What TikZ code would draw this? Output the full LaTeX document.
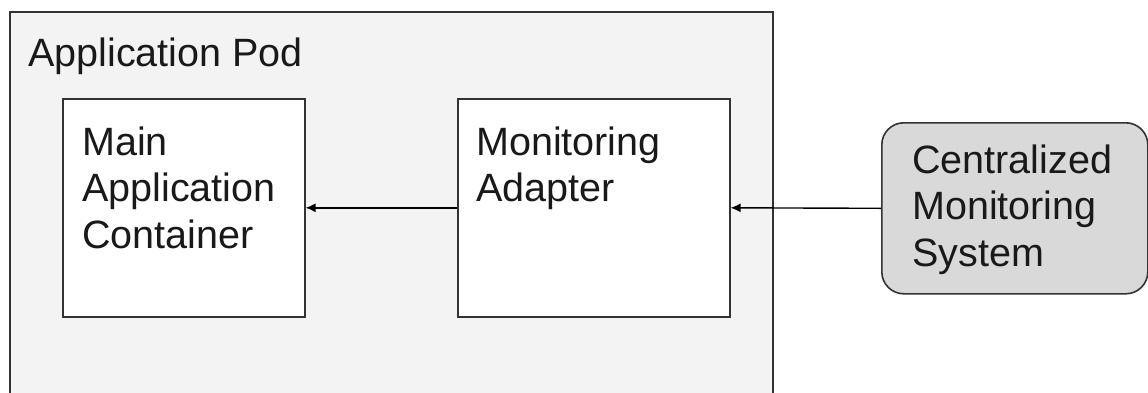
\documentclass[tikz,border=0pt]{standalone}
\usepackage{fontspec}
\setmainfont{Liberation Sans}
\usetikzlibrary{arrows.meta}
\definecolor{linegray}{HTML}{333333}
\definecolor{podfill}{HTML}{F3F3F3}
\definecolor{sysfill}{HTML}{D9D9D9}
\begin{document}
\begin{tikzpicture}[x=1pt,y=-1pt,
  box/.style={draw=linegray,line width=1.6pt,fill=white,rectangle,inner sep=0pt,anchor=north west},
  txt/.style={anchor=base west,inner sep=0pt,align=left,font=\fontsize{39.5}{46.5}\selectfont,text=black!90},
  conn/.style={draw=black,line width=1.4pt,-{Latex[length=10pt,width=9pt]}}]
\useasboundingbox (0,0) rectangle (1148,392);
\clip (0,0) rectangle (1148,392);
\node[box,fill=podfill,minimum width=763pt,minimum height=400pt] (pod) at (9,11) {};
\node[txt] (podlabel) at (28,66) {Application Pod};
\node[box,minimum width=242pt,minimum height=218pt] (main) at (62,98) {};
\node[txt] (maintext) at (82,248) {Main\\Application\\Container};
\node[box,minimum width=272pt,minimum height=218pt] (adapter) at (457,98) {};
\node[txt] (adaptertext) at (476,201.5) {Monitoring\\Adapter};
\node[box,fill=sysfill,rounded corners=22pt,minimum width=266pt,minimum height=171pt] (system) at (881,122) {};
\node[txt] (systemtext) at (912,266) {Centralized\\Monitoring\\System};
\draw[conn] (system.west) -- (adapter.east);
\draw[conn] (adapter.west) -- (main.east);
\end{tikzpicture}
\end{document}
